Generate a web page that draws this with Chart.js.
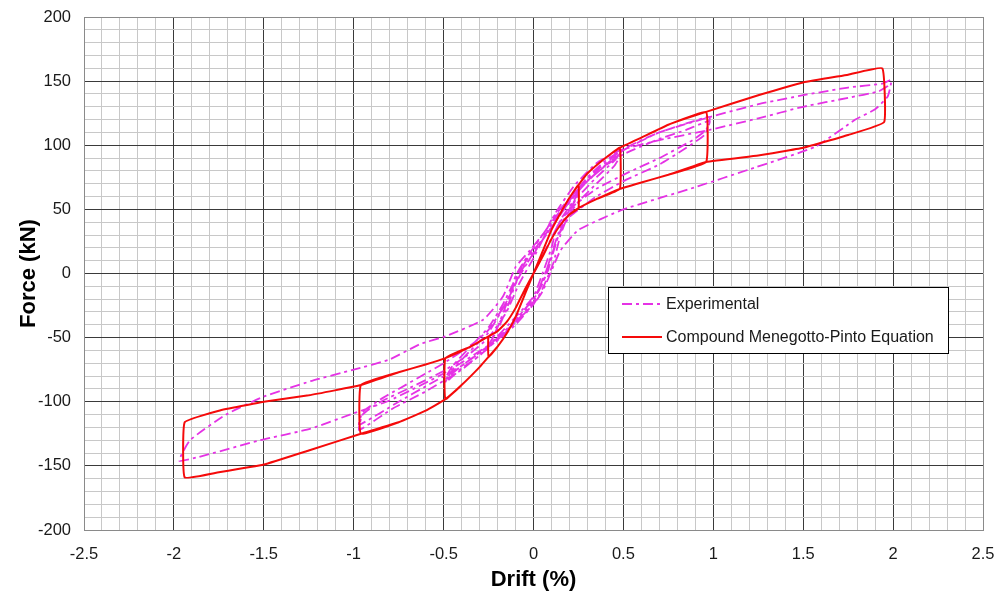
<!DOCTYPE html>
<html>
<head>
<meta charset="utf-8">
<script src="https://cdn.jsdelivr.net/npm/chart.js@4.4.1/dist/chart.umd.min.js"></script>
<style>
  html, body { margin: 0; padding: 0; background: #ffffff; }
  #wrap { position: relative; width: 996px; height: 597px; }
</style>
</head>
<body>
<div id="wrap"><canvas id="c" width="996" height="597"></canvas></div>
<script>
// ---------- DATA ----------
const xTickLabels = ['-2.5','-2','-1.5','-1','-0.5','0','0.5','1','1.5','2','2.5'];
const yTickLabels = ['-200','-150','-100','-50','0','50','100','150','200'];
const seriesNames = ['Experimental', 'Compound Menegotto-Pinto Equation'];

// Compound Menegotto-Pinto model (drift %, force kN), path order
const modelDrift = [
  // 0.25 % cycle
  0,0.05,0.1,0.15,0.2,0.25, 0.25, 0.2,0.15,0.1,0.05,0,
  -0.05,-0.1,-0.15,-0.2,-0.25, -0.25, -0.2,-0.15,-0.1,-0.05,0,
  // 0.5 % cycle
  0.05,0.1,0.15,0.2,0.25,0.3,0.4,0.48, 0.48, 0.35,0.25,0.2,0.15,0.1,0.05,0,
  -0.05,-0.1,-0.15,-0.2,-0.25,-0.3,-0.4,-0.49, -0.49, -0.35,-0.25,-0.2,-0.15,-0.1,-0.05,0,
  // 1 % cycle
  0.05,0.1,0.15,0.2,0.25,0.3,0.4,0.48,0.6,0.75,0.96, 0.96, 0.75,0.6,0.48,0.35,0.25,0.2,0.15,0.1,0.05,0,
  -0.05,-0.1,-0.15,-0.2,-0.25,-0.3,-0.4,-0.49,-0.6,-0.75,-0.96, -0.96, -0.75,-0.6,-0.49,-0.35,-0.25,-0.2,-0.15,-0.1,-0.05,0,
  // 2 % cycle
  0.05,0.1,0.15,0.2,0.25,0.3,0.4,0.48,0.6,0.75,0.96,1.25,1.5,1.75,1.94, 1.95,
  1.75,1.5,1.25,0.96,0.75,0.6,0.48,0.35,0.25,0.2,0.15,0.1,0.05,0,
  -0.05,-0.1,-0.15,-0.2,-0.25,-0.3,-0.4,-0.49,-0.6,-0.75,-0.96,-1.25,-1.5,-1.75,-1.94, -1.94,
  -1.75,-1.5,-1.25,-0.96,-0.75,-0.6,-0.49,-0.35,-0.25,-0.2,-0.15,-0.1,-0.05,0
];
const modelForce = [
  0,17,34,47,59,69, 51, 46,38,27,13,0,
  -17,-34,-47,-57,-65, -49, -45,-38,-27,-13,0,
  17,34,47,59,69,78,90,98, 66, 58,51,46,38,27,13,0,
  -17,-34,-47,-57,-65,-73,-87,-98, -66, -57,-49,-45,-38,-27,-13,0,
  17,34,47,59,69,78,90,98,106,116,126, 87, 77,71,66,58,51,46,38,27,13,0,
  -17,-34,-47,-57,-65,-73,-87,-98,-107,-116,-125, -87, -77,-71,-66,-57,-49,-45,-38,-27,-13,0,
  17,34,47,59,69,78,90,98,106,116,126,139,149,155,160, 118,
  108,98,92,87,77,71,66,58,51,46,38,27,13,0,
  -17,-34,-47,-57,-65,-73,-87,-98,-107,-116,-125,-138,-149,-155,-159, -116,
  -107,-100,-95,-87,-77,-71,-66,-57,-49,-45,-38,-27,-13,0
];

// Experimental record (drift %, force kN), path order
const expDrift = [
  // 0.25 % cycles
  0,0.08,0.16,0.25,0.2,0.14,0.1,0.05,0,-0.1,-0.18,-0.25,-0.2,-0.15,-0.1,-0.05,0,
  0.08,0.16,0.25,0.2,0.15,0.11,0.05,0,-0.1,-0.18,-0.25,-0.2,-0.14,-0.1,-0.05,0,
  // 0.5 % cycles
  0.1,0.2,0.3,0.4,0.49,0.45,0.35,0.25,0.18,0.13,0.08,0.03,0,-0.1,-0.2,-0.3,-0.4,-0.49,
  -0.45,-0.35,-0.25,-0.17,-0.1,-0.05,0,
  0.1,0.2,0.3,0.4,0.49,0.45,0.35,0.25,0.17,0.12,0.08,0.02,-0.05,-0.15,-0.3,-0.4,-0.49,
  -0.45,-0.35,-0.25,-0.15,-0.08,0,
  // 1 % cycles
  0.1,0.2,0.3,0.4,0.5,0.6,0.7,0.85,0.98,0.96,0.885,0.7,0.53,0.35,0.2,0.13,0.1,0.05,0,
  -0.1,-0.25,-0.4,-0.6,-0.75,-0.97,-0.95,-0.85,-0.75,-0.6,-0.5,-0.35,-0.25,-0.15,-0.07,0,
  0.1,0.2,0.3,0.4,0.5,0.7,0.85,0.98,0.95,0.85,0.7,0.5,0.35,0.2,0.14,0.1,0.05,0,
  -0.1,-0.25,-0.4,-0.6,-0.78,-0.97,-0.95,-0.85,-0.7,-0.5,-0.35,-0.25,-0.15,-0.08,0,
  // 2 % cycles
  0.05,0.1,0.25,0.5,0.7,0.98,1.25,1.5,1.75,1.94,1.99,
  1.97,1.9,1.79,1.57,1.24,0.87,0.5,0.25,0.15,0.1,0.05,0,-0.1,-0.25,-0.5,-0.8,-1.0,-1.24,-1.52,-1.86,-1.97,
  -1.91,-1.71,-1.5,-1.24,-1.0,-0.8,-0.63,-0.49,-0.28,-0.17,-0.1,-0.02,0.07,0.13,0.23,0.35,0.48,
  0.7,0.98,1.25,1.5,1.75,1.92,1.98
];
const expForce = [
  0,22,44,62,50,30,12,-8,-20,-36,-48,-56,-44,-28,-8,8,18,
  32,48,64,48,30,8,-12,-24,-40,-50,-57,-42,-20,-2,10,20,
  40,58,74,86,96,88,75,60,46,28,6,-12,-22,-38,-52,-62,-72,-82,
  -72,-57,-42,-24,-4,10,20,
  40,57,72,84,94,84,70,56,40,22,2,-16,-28,-45,-64,-74,-85,
  -75,-60,-46,-22,0,15,
  38,58,75,88,97,104,110,117,122,112,104,90,79,66,50,36,20,0,-18,
  -34,-56,-72,-88,-100,-118,-108,-98,-90,-78,-70,-56,-44,-22,0,16,
  36,56,72,84,93,105,112,119,108,98,85,72,60,44,30,14,-6,-20,
  -36,-58,-75,-92,-105,-122,-110,-100,-90,-76,-62,-50,-30,-8,12,
  26,42,66,96,110,122,132,139,145,148,151,
  138,128,120,99,83,66,50,34,18,2,-14,-24,-38,-56,-78,-99,-109,-121,-130,-143,-146,
  -130,-110,-96,-84,-75,-67,-55,-49,-36,-18,5,18,34,49,69,86,96,
  104,112,121,130,137,142,147
];

// ---------- BUILD ----------
const toPoints = (xs, ys) => xs.map((x, i) => ({ x: x, y: ys[i] }));
const isMult = (v, step) => Math.abs(v / step - Math.round(v / step)) < 1e-6;

const EXP_COLOR = '#e532e5';
const MOD_COLOR = '#f50a0a';
const EXP_DASH = [10, 4, 3, 4];

const legendPlugin = {
  id: 'boxLegend',
  afterDraw(chart) {
    const ctx = chart.ctx;
    const ds = chart.data.datasets;
    ctx.save();
    ctx.fillStyle = '#ffffff';
    ctx.fillRect(608.5, 287.5, 340, 66);
    ctx.strokeStyle = '#000000';
    ctx.lineWidth = 1;
    ctx.setLineDash([]);
    ctx.strokeRect(608.5, 287.5, 340, 66);
    const rows = [304, 337];
    ds.forEach((d, i) => {
      const y = rows[i];
      ctx.beginPath();
      ctx.strokeStyle = d.borderColor;
      ctx.lineWidth = d.borderWidth;
      ctx.setLineDash(d.borderDash || []);
      ctx.moveTo(622, y);
      ctx.lineTo(662, y);
      ctx.stroke();
      ctx.setLineDash([]);
      ctx.fillStyle = '#1a1a1a';
      ctx.font = '16px "Liberation Sans", Arial, sans-serif';
      ctx.textAlign = 'left';
      ctx.textBaseline = 'middle';
      ctx.fillText(d.label, 666, y + 1);
    });
    ctx.restore();
  }
};

const gridColor = (lim, major) => (c) => {
  const v = c.tick ? c.tick.value : 0;
  if (Math.abs(Math.abs(v) - lim) < 1e-6) return '#8a8a8a';
  return isMult(v, major) ? '#3a3a3a' : '#c8c8c8';
};

new Chart(document.getElementById('c'), {
  type: 'scatter',
  data: {
    datasets: [
      {
        label: seriesNames[0],
        data: toPoints(expDrift, expForce),
        showLine: true,
        borderColor: EXP_COLOR,
        backgroundColor: EXP_COLOR,
        borderWidth: 1.8,
        borderDash: EXP_DASH,
        pointRadius: 0,
        tension: 0.15,
        order: 1
      },
      {
        label: seriesNames[1],
        data: toPoints(modelDrift, modelForce),
        showLine: true,
        borderColor: MOD_COLOR,
        backgroundColor: MOD_COLOR,
        borderWidth: 2,
        pointRadius: 0,
        tension: 0.1,
        order: 0
      }
    ]
  },
  options: {
    responsive: false,
    animation: false,
    devicePixelRatio: 1,
    layout: { padding: { left: 0, top: 17, right: 13, bottom: 0 } },
    plugins: { legend: { display: false }, tooltip: { enabled: false } },
    scales: {
      x: {
        type: 'linear',
        min: -2.5, max: 2.5,
        afterFit: (s) => { s.height = 67; s.paddingLeft = 0; s.paddingRight = 0; },
        ticks: {
          stepSize: 0.1, autoSkip: false, maxRotation: 0, minRotation: 0, maxTicksLimit: 200,
          padding: 15, color: '#1a1a1a',
          font: { family: '"Liberation Sans", Arial, sans-serif', size: 16.5 },
          callback: (v) => isMult(v, 0.5) ? xTickLabels[Math.round((v + 2.5) / 0.5)] : ''
        },
        grid: { drawTicks: false, color: gridColor(2.5, 0.5), lineWidth: 1 },
        border: { color: '#8a8a8a', width: 1 },
        title: {
          display: true, text: 'Drift (%)', color: '#000000',
          font: { family: '"Liberation Sans", Arial, sans-serif', size: 22, weight: 'bold' },
          padding: { top: 0, bottom: 4 }
        }
      },
      y: {
        type: 'linear',
        min: -200, max: 200,
        afterFit: (s) => { s.width = 84; s.paddingTop = 0; s.paddingBottom = 0; },
        ticks: {
          stepSize: 10, autoSkip: false, maxTicksLimit: 200,
          padding: 13, color: '#1a1a1a',
          font: { family: '"Liberation Sans", Arial, sans-serif', size: 16.5 },
          callback: (v) => isMult(v, 50) ? yTickLabels[Math.round((v + 200) / 50)] : ''
        },
        grid: { drawTicks: false, color: gridColor(200, 50), lineWidth: 1 },
        border: { color: '#8a8a8a', width: 1 },
        title: {
          display: true, text: 'Force (kN)', color: '#000000',
          font: { family: '"Liberation Sans", Arial, sans-serif', size: 22, weight: 'bold' },
          padding: { top: 16, bottom: 0 }
        }
      }
    }
  },
  plugins: [legendPlugin]
});
</script>
</body>
</html>
